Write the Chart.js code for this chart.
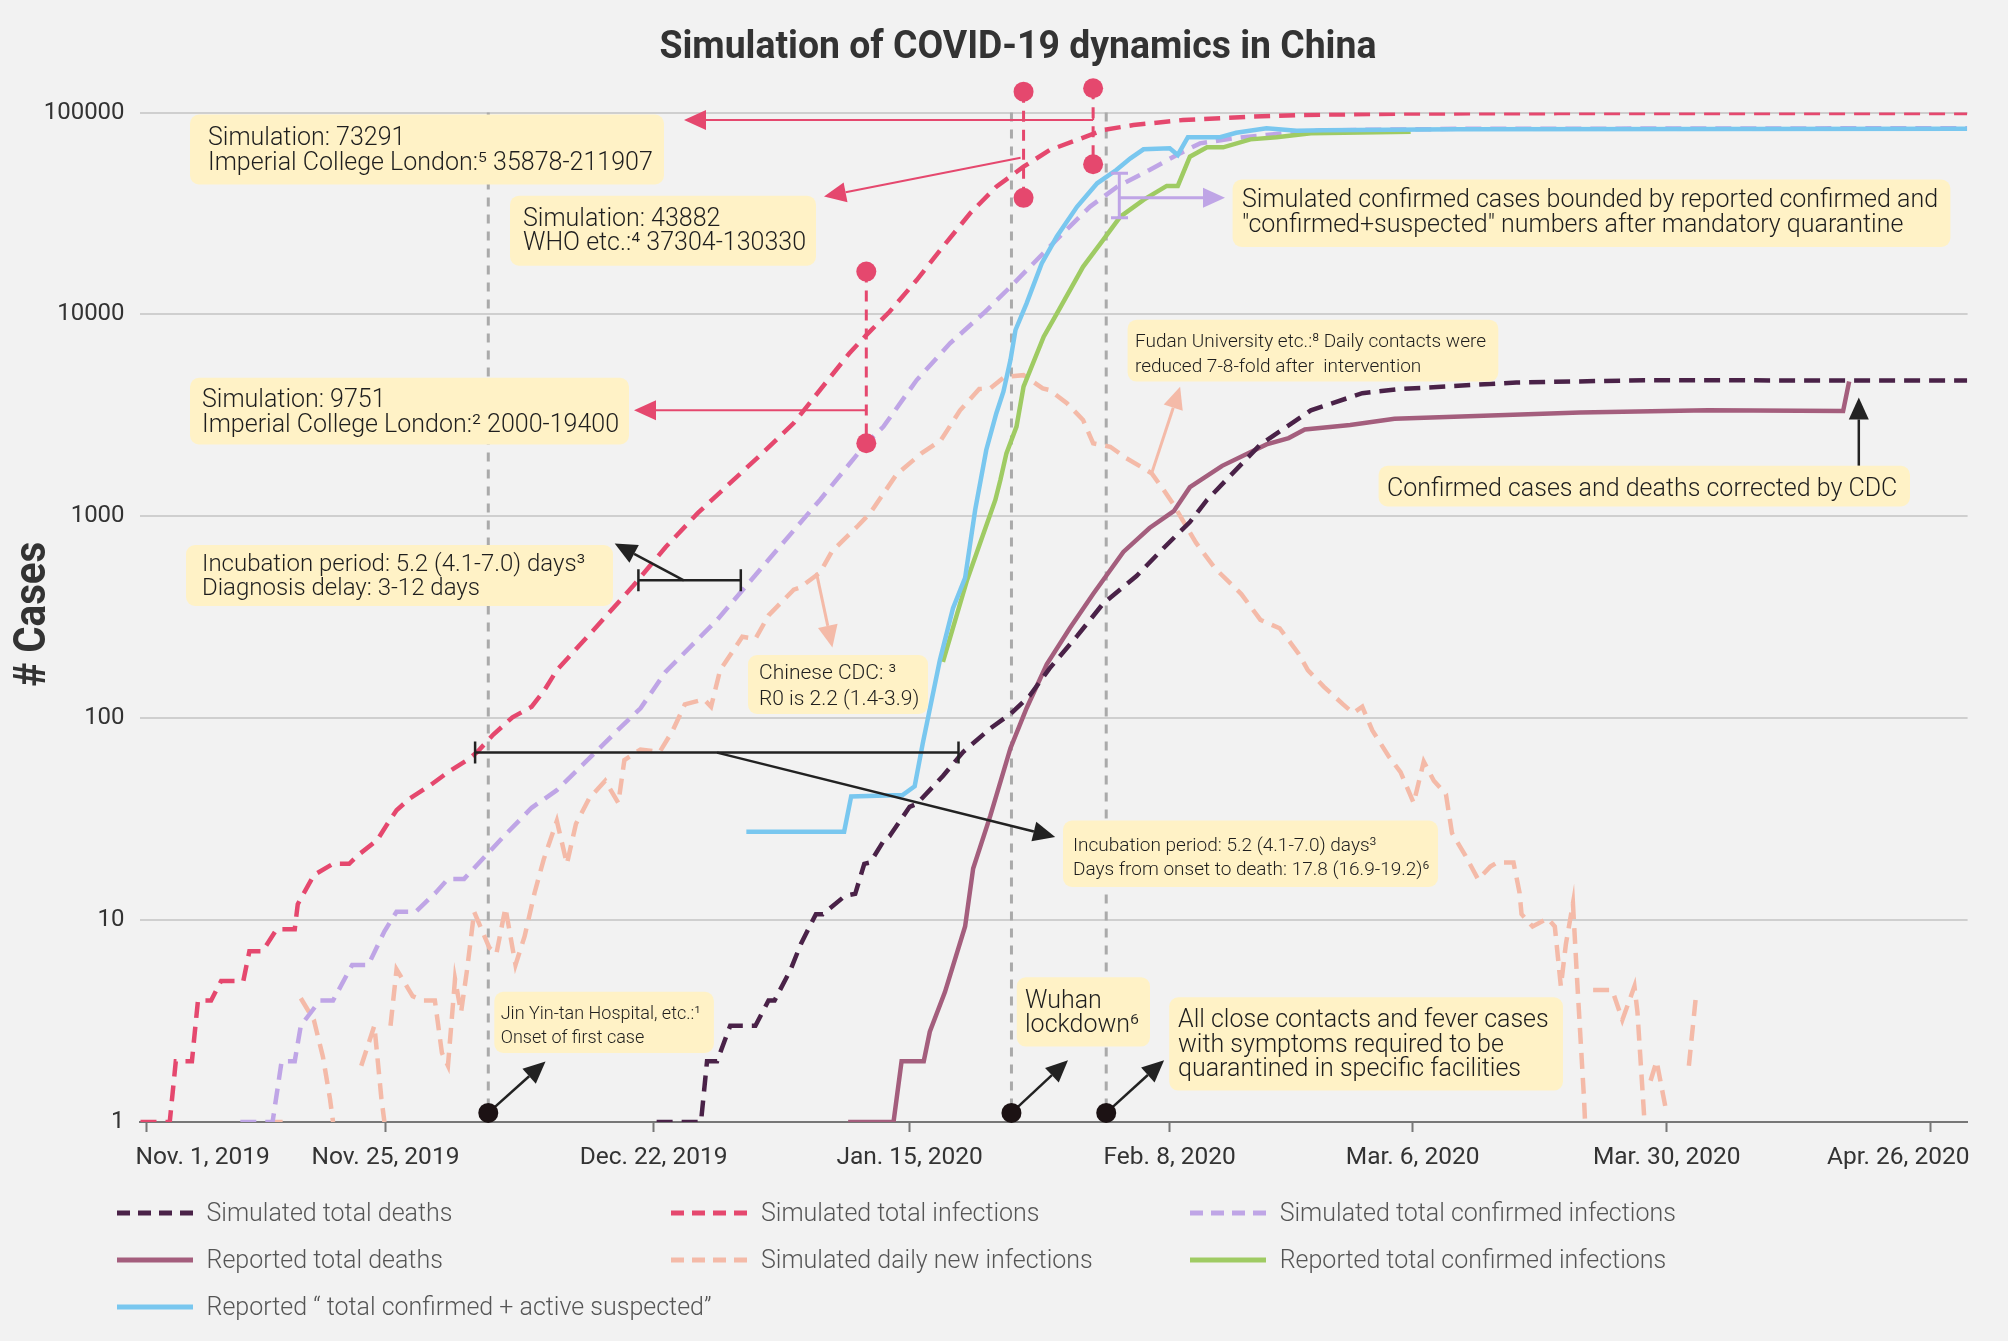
<!DOCTYPE html>
<html lang="en">
<head>
<meta charset="UTF-8">
<title>Simulation of COVID-19 dynamics in China</title>
<script src="https://cdn.jsdelivr.net/npm/chart.js"></script>
<style>
  html, body { margin: 0; padding: 0; background: #f2f2f2; }
  #wrap { position: relative; width: 2008px; height: 1341px; overflow: hidden; }
  #chart { position: absolute; left: 0; top: 0; }
  .item { position: absolute; display: flex; align-items: center; white-space: nowrap;
          font-family: Roboto, sans-serif; font-weight: 300; font-size: 25px; color: #555; height: 30px; }
  .item svg { margin-right: 14px; }
</style>
</head>
<body>
<div id="wrap">
  <canvas id="chart" width="2008" height="1341"></canvas>
  <div id="legend"></div>
</div>
<script>
// x values are day numbers counted from the first tick (Nov. 1, 2019)
const tickLabels = ['Nov. 1, 2019', 'Nov. 25, 2019', 'Dec. 22, 2019', 'Jan. 15, 2020',
                    'Feb. 8, 2020', 'Mar. 6, 2020', 'Mar. 30, 2020', 'Apr. 26, 2020'];
const tickDays = [0, 23.7, 50.3, 75.7, 101.5, 125.6, 150.8, 177.0];
const yTicks = [1, 10, 100, 1000, 10000, 100000];

// [day, cases]
const simDeaths = [[50.6,1],[55.0,1],[55.6,2],[56.6,2],[57.9,3],[60.4,3],[61.7,4],[62.3,4],[63.9,5.7],
  [64.9,7.6],[66.4,10.7],[67.1,10.7],[69.3,13.2],[70.3,13.5],[71.2,19],[71.8,19.3],[73.1,24.6],[73.7,26],
  [75.7,36.4],[76.4,37.6],[79.0,51.7],[81.0,68],[83.7,89],[85.7,105],[87.6,129],[89.6,177],[92.3,255],
  [94.9,370],[98.2,506],[100.9,697],[103.5,937],[105.2,1205],[110.5,2270],[115.5,3350],[120.6,4070],
  [124.4,4270],[135.9,4600],[148.6,4720],[180.6,4700]];

const simInfections = [[-0.6,1],[2.3,1],[2.9,2],[4.5,2],[5.1,4],[6.4,4],[7.4,5],[9.6,5],[10.2,7],[11.5,7],
  [12.9,9],[14.7,9],[15.0,12],[16.6,16.7],[18.5,19],[20.1,19],[21.0,21],[22.9,25],[23.9,30],[24.8,35],
  [26.1,40],[28.0,46],[29.9,54],[31.8,62],[32.8,68],[34.4,83],[36.3,101],[38.2,114],[39.4,136],[40.7,173],
  [44.5,279],[48.3,454],[51.5,704],[54.7,1040],[57.9,1463],[61.1,2056],[64.2,2896],[67.4,4600],
  [69.7,6400],[71.4,7900],[73.7,10300],[76.4,14800],[79.0,21640],[81.7,31680],[84.3,42900],[87.0,53900],
  [89.6,65200],[92.3,73100],[94.9,81900],[97.9,86700],[102.8,91800],[109.5,95300],[114.4,97200],
  [125.0,98800],[140.0,99300],[180.6,99300]];

const simConfirmed = [[9.3,1],[12.5,1],[13.4,2],[14.7,2],[15.3,3],[17.2,4],[18.5,4],[20.4,6],[22.0,6],
  [23.6,8.8],[24.8,11],[26.7,11],[28.7,13.7],[29.9,16],[31.5,16],[33.7,21],[35.6,26.5],[38.2,36],
  [40.7,44],[43.3,59],[46.4,84],[49.0,112],[51.5,170],[56.6,307],[61.7,609],[66.8,1205],[69.7,1810],
  [71.4,2300],[73.1,2780],[76.4,4730],[79.7,7190],[83.0,10100],[85.7,13700],[88.3,18600],[90.9,25200],
  [93.6,34200],[96.3,42900],[99.5,51900],[102.2,61600],[104.5,70300],[107.8,74500],[111.1,77400],
  [114.4,80400],[116.8,81600],[130.0,83000],[180.6,83600]];

const repDeaths = [[69.6,1],[74.1,1],[74.9,2],[77.1,2],[77.7,2.8],[79.2,4.4],[81.2,9.3],[82.0,18],
  [83.7,32.8],[85.7,71],[87.3,112],[89.3,185],[91.6,280],[93.9,412],[96.9,666],[99.5,875],[101.9,1060],
  [103.5,1393],[106.7,1778],[111.1,2270],[113.3,2440],[114.9,2690],[119.4,2830],[123.8,3040],
  [142.2,3270],[154.9,3350],[168.3,3320],[168.9,4650]];

const simDaily = [[12.5,1],[13.5,1],[14.4,null],[15.3,4.1],[16.6,3.2],[17.5,2.1],[18.2,1.3],[18.5,1],
  [19.9,null],[21.3,1.9],[22.6,3],[23.3,1.3],[23.6,1],[23.9,null],[24.2,3],[24.8,5.7],[26.4,4.2],
  [27.4,4],[28.6,4],[29.3,2.2],[29.9,1.9],[30.6,5.1],[31.2,3.5],[31.8,5.7],[32.5,11],[34.0,7.3],
  [34.7,6.8],[35.6,11.5],[36.6,6],[37.5,8.3],[38.5,13.7],[39.4,20],[40.7,31],[41.7,19],[42.6,30],
  [43.9,40],[45.5,49],[46.8,38],[47.4,62],[49.0,70],[50.9,68],[52.2,87],[53.4,117],[55.3,124],
  [56.0,114],[56.9,173],[59.1,253],[60.4,247],[61.7,323],[64.2,433],[64.8,443],[66.8,526],[68.0,671],
  [70.6,900],[71.8,1040],[74.4,1614],[76.9,2056],[78.8,2380],[80.7,3350],[82.6,4270],[83.7,4300],
  [85.1,4900],[87.0,5000],[88.9,4300],[89.6,4220],[91.3,3630],[92.9,3000],[93.9,2300],[95.6,2210],
  [97.2,1940],[98.9,1730],[99.7,1633],[100.9,1350],[101.9,1138],[104.1,740],[106.0,552],[108.6,412],
  [110.5,307],[112.4,279],[114.3,208],[115.2,173],[116.8,143],[118.7,117],[119.7,106],[120.6,114],
  [121.6,87],[123.2,65],[124.4,54],[125.7,38],[126.7,61],[127.7,49],[128.9,42],[129.5,27],[130.8,21],
  [132.1,15.9],[133.3,18.4],[134.0,19.3],[135.6,19.3],[136.2,13.7],[136.4,10.7],[137.5,9.3],[139.0,10.2],
  [139.7,9.3],[140.3,4.7],[140.8,7.6],[141.5,12.1],[141.9,5.2],[142.6,1.3],[142.7,1],[143.1,null],
  [143.5,4.5],[145.4,4.5],[146.4,3.2],[147.6,4.7],[147.9,3.5],[148.6,1],[148.9,null],[149.2,1.6],
  [149.8,2],[150.8,1.1],[151.9,null],[153.0,1.9],[153.7,4.2]];

const repConfirmed = [[79.0,190],[81.4,484],[84.2,1205],[84.7,1512],[85.3,2050],[86.3,2780],[87.0,4390],
  [89.0,7760],[90.3,10100],[92.9,17200],[94.9,23400],[96.6,30500],[98.9,36900],[101.2,43300],
  [102.3,43300],[103.5,60400],[105.2,67200],[106.8,67200],[109.5,73600],[112.1,75400],[115.5,78900],
  [125.4,80400]];

const repSuspected = [[59.5,27.4],[69.2,27.4],[69.9,41],[75.0,41.6],[76.2,46],[77.0,75],[78.7,194],
  [80.0,351],[81.2,495],[82.2,1075],[83.3,2130],[84.3,3240],[85.0,4140],[85.7,5940],[86.2,8370],
  [87.3,11350],[88.8,17900],[90.3,24300],[92.3,34100],[94.3,44600],[96.2,51900],[97.6,59300],
  [98.9,65700],[101.5,66500],[102.3,61600],[103.3,75400],[106.5,75400],[108.1,79400],[111.1,83500],
  [114.1,81300],[116.8,81600],[130.0,82500],[180.6,83000]];

// event dates (vertical dashed lines) and the estimate ranges marked with red pins
const eventDays = [33.9, 85.8, 95.2];
const pinDays = [71.4, 87.0, 93.9];
const pinLow = [2300, 37800, 55400];
const pinHigh = [16300, 126800, 131800];

const DASH = [16, 9];
function series(label, pts, color, dash, order) {
  return {
    label: label,
    data: pts.map(p => ({ x: p[0], y: p[1] })),
    borderColor: color,
    borderWidth: 4.5,
    borderDash: dash,
    pointRadius: 0,
    tension: 0,
    spanGaps: false,
    order: order
  };
}

const datasets = [
  series('Simulated total deaths', simDeaths, '#4a2248', DASH, 0),
  series('Simulated total infections', simInfections, '#e5486e', DASH, 2),
  series('Simulated total confirmed infections', simConfirmed, '#bfa5e6', DASH, 5),
  series('Reported total deaths', repDeaths, '#a45e7d', [], 1),
  series('Simulated daily new infections', simDaily, '#f4baa8', DASH, 6),
  series('Reported total confirmed infections', repConfirmed, '#9fcb63', [], 4),
  series('Reported \u201c total confirmed + active suspected\u201d', repSuspected, '#79c7ef', [], 3)
];

// callout boxes (pixel layout)
const boxes = [
  { x: 190, y: 114.5, w: 474, h: 70, tx: 208, ty: 145, lh: 24.7, size: 25,
    lines: ['Simulation: 73291', 'Imperial College London:\u2075 35878-211907'] },
  { x: 510, y: 195.7, w: 306, h: 70, tx: 523, ty: 225.6, lh: 24.4, size: 25,
    lines: ['Simulation: 43882', 'WHO etc.:\u2074 37304-130330'] },
  { x: 190, y: 377.8, w: 439, h: 66.6, tx: 202, ty: 406.8, lh: 24.8, size: 25,
    lines: ['Simulation: 9751', 'Imperial College London:\u00b2 2000-19400'] },
  { x: 186, y: 545, w: 427, h: 61, tx: 202, ty: 570.5, lh: 24.8, size: 24,
    lines: ['Incubation period: 5.2 (4.1-7.0) days\u00b3', 'Diagnosis delay: 3-12 days'] },
  { x: 748, y: 655, w: 180, h: 59, tx: 759, ty: 679, lh: 25.5, size: 21,
    lines: ['Chinese CDC: \u00b3', 'R0 is 2.2 (1.4-3.9)'] },
  { x: 1063, y: 820.6, w: 375, h: 66.3, tx: 1073, ty: 850.6, lh: 24.8, size: 19,
    lines: ['Incubation period: 5.2 (4.1-7.0) days\u00b3', 'Days from onset to death: 17.8 (16.9-19.2)\u2076'] },
  { x: 1232.6, y: 179.5, w: 717.8, h: 67.5, tx: 1242, ty: 207.3, lh: 24.3, size: 25,
    lines: ['Simulated confirmed cases bounded by reported confirmed and',
            '"confirmed+suspected" numbers after mandatory quarantine'] },
  { x: 1127.6, y: 319.7, w: 370.7, h: 61.9, tx: 1135, ty: 347, lh: 24.8, size: 19,
    lines: ['Fudan University etc.:\u2078 Daily contacts were', 'reduced 7-8-fold after  intervention'] },
  { x: 1378.6, y: 465.8, w: 531.4, h: 40.6, tx: 1387, ty: 495.7, lh: 24, size: 25,
    lines: ['Confirmed cases and deaths corrected by CDC'] },
  { x: 494.3, y: 991.8, w: 219.6, h: 61.2, tx: 500.7, ty: 1018.7, lh: 24.3, size: 18,
    lines: ['Jin Yin-tan Hospital, etc.:\u00b9', 'Onset of first case'] },
  { x: 1016.8, y: 977.2, w: 133.2, h: 69.4, tx: 1025, ty: 1008, lh: 23.6, size: 25,
    lines: ['Wuhan', 'lockdown\u2076'] },
  { x: 1169.2, y: 997.3, w: 393.8, h: 93.3, tx: 1178, ty: 1027.3, lh: 24.2, size: 25,
    lines: ['All close contacts and fever cases', 'with symptoms required to be',
            'quarantined in specific facilities'] }
];

function arrow(ctx, x1, y1, x2, y2, color, lw) {
  const L = 22, W = 10;
  const a = Math.atan2(y2 - y1, x2 - x1);
  const bx = x2 - L * Math.cos(a), by = y2 - L * Math.sin(a);
  ctx.save();
  ctx.setLineDash([]);
  ctx.strokeStyle = color; ctx.fillStyle = color; ctx.lineWidth = lw;
  ctx.beginPath(); ctx.moveTo(x1, y1); ctx.lineTo(bx, by); ctx.stroke();
  ctx.beginPath();
  ctx.moveTo(x2, y2);
  ctx.lineTo(bx + W * Math.sin(a), by - W * Math.cos(a));
  ctx.lineTo(bx - W * Math.sin(a), by + W * Math.cos(a));
  ctx.closePath(); ctx.fill();
  ctx.restore();
}

function hbar(ctx, x1, x2, y, color) {
  ctx.save();
  ctx.setLineDash([]);
  ctx.strokeStyle = color; ctx.lineWidth = 2.5;
  ctx.beginPath();
  ctx.moveTo(x1, y); ctx.lineTo(x2, y);
  ctx.moveTo(x1, y - 11); ctx.lineTo(x1, y + 11);
  ctx.moveTo(x2, y - 11); ctx.lineTo(x2, y + 11);
  ctx.stroke();
  ctx.restore();
}

// text squeezed horizontally to a given width
function fitText(ctx, text, x, y, width) {
  const w = ctx.measureText(text).width;
  ctx.save();
  ctx.translate(x, y);
  ctx.scale(width / w, 1);
  ctx.fillText(text, 0, 0);
  ctx.restore();
}

const annotations = {
  id: 'annotations',
  beforeDatasetsDraw(chart) {
    const ctx = chart.ctx, xs = chart.scales.x, area = chart.chartArea;
    ctx.save();
    ctx.strokeStyle = '#aaaaaa'; ctx.lineWidth = 3; ctx.setLineDash([9, 8]);
    eventDays.forEach(d => {
      const x = xs.getPixelForValue(d);
      ctx.beginPath(); ctx.moveTo(x, area.top); ctx.lineTo(x, area.bottom); ctx.stroke();
    });
    ctx.restore();
  },
  afterDatasetsDraw(chart) {
    const ctx = chart.ctx, xs = chart.scales.x, ys = chart.scales.y;
    const red = '#e5486e', black = '#222222', peach = '#f4baa8', lav = '#bfa5e6';

    // red pins: estimate ranges
    const pinX = pinDays.map(d => xs.getPixelForValue(d));
    ctx.save();
    pinDays.forEach((d, i) => {
      const x = pinX[i], y1 = ys.getPixelForValue(pinHigh[i]), y2 = ys.getPixelForValue(pinLow[i]);
      ctx.strokeStyle = red; ctx.lineWidth = 3; ctx.setLineDash([11, 8]);
      ctx.beginPath(); ctx.moveTo(x, y1); ctx.lineTo(x, y2); ctx.stroke();
      ctx.setLineDash([]); ctx.fillStyle = red;
      [y1, y2].forEach(y => { ctx.beginPath(); ctx.arc(x, y, 10, 0, Math.PI * 2); ctx.fill(); });
    });
    ctx.restore();

    // connectors from pins to their boxes
    ctx.save();
    ctx.strokeStyle = red; ctx.lineWidth = 2;
    ctx.beginPath(); ctx.moveTo(pinX[2], 110); ctx.lineTo(pinX[2], 120); ctx.stroke();
    ctx.restore();
    arrow(ctx, pinX[2], 120, 684, 120, red, 2);
    arrow(ctx, pinX[1] - 3, 157.7, 824, 196.6, red, 2);
    arrow(ctx, pinX[0], 410.3, 634, 410.3, red, 2);

    // interval bars and black arrows
    hbar(ctx, 638.4, 740.8, 580.3, black);
    arrow(ctx, 683.8, 580.3, 614.7, 543.6, black, 2.5);
    hbar(ctx, 475.1, 958.5, 752.6, black);
    arrow(ctx, 717.1, 752.6, 1055.2, 836.9, black, 2.5);
    arrow(ctx, 1858.8, 465.8, 1858.8, 397.4, black, 2.5);

    // peach arrows
    arrow(ctx, 816.4, 572.6, 832.4, 647.4, peach, 3);
    arrow(ctx, 1151.3, 474.4, 1180.1, 386.8, peach, 3);

    // lavender bracket
    ctx.save();
    ctx.strokeStyle = lav; ctx.lineWidth = 3;
    ctx.beginPath();
    ctx.moveTo(1119.3, 173.3); ctx.lineTo(1119.3, 217.7);
    ctx.moveTo(1111, 173.3); ctx.lineTo(1128, 173.3);
    ctx.moveTo(1111, 217.7); ctx.lineTo(1128, 217.7);
    ctx.stroke();
    ctx.restore();
    arrow(ctx, 1119.3, 197.7, 1225, 197.7, lav, 3);

    // event dots on the axis
    const dotTips = [[545.5, 1061.5], [1068, 1060.2], [1164.1, 1060.2]];
    eventDays.forEach((d, i) => {
      const x = xs.getPixelForValue(d), y = 1112.9;
      arrow(ctx, x, y, dotTips[i][0], dotTips[i][1], black, 2.5);
      ctx.save();
      ctx.fillStyle = '#1c1214';
      ctx.beginPath(); ctx.arc(x, y, 10, 0, Math.PI * 2); ctx.fill();
      ctx.restore();
    });

    // callout boxes
    boxes.forEach(b => {
      ctx.save();
      ctx.fillStyle = '#fff2c6';
      ctx.beginPath(); ctx.roundRect(b.x, b.y, b.w, b.h, 9); ctx.fill();
      ctx.fillStyle = '#1e1e1e';
      ctx.font = '300 ' + b.size + 'px Roboto';
      ctx.textAlign = 'left'; ctx.textBaseline = 'alphabetic';
      b.lines.forEach((t, i) => ctx.fillText(t, b.tx, b.ty + i * b.lh));
      ctx.restore();
    });
  },
  afterDraw(chart) {
    const ctx = chart.ctx, xs = chart.scales.x, area = chart.chartArea;

    // x tick labels, kept inside the plot width at both ends
    ctx.save();
    ctx.fillStyle = '#333333';
    ctx.font = '400 24.5px Roboto';
    ctx.textAlign = 'left'; ctx.textBaseline = 'alphabetic';
    tickDays.forEach((d, i) => {
      const w = ctx.measureText(tickLabels[i]).width;
      let left = xs.getPixelForValue(d) - w / 2;
      left = Math.max(left, area.left - 4);
      left = Math.min(left, area.right + 2 - w);
      ctx.fillText(tickLabels[i], left, 1164);
    });
    ctx.restore();

    ctx.save();
    ctx.fillStyle = '#333333';
    ctx.font = 'bold 39px Roboto';
    ctx.textAlign = 'left'; ctx.textBaseline = 'alphabetic';
    fitText(ctx, 'Simulation of COVID-19 dynamics in China', 659.4, 57.7, 717);
    ctx.translate(34, 686.7);
    ctx.rotate(-Math.PI / 2);
    ctx.font = 'bold 44px Roboto';
    ctx.textBaseline = 'middle';
    fitText(ctx, '# Cases', 0, 0, 145);
    ctx.restore();
  }
};

function buildLegend() {
  const cols = [116.5, 671, 1189.7];
  const rows = [1212.6, 1259.6, 1306.7];
  const box = document.getElementById('legend');
  datasets.forEach((ds, i) => {
    const el = document.createElement('div');
    el.className = 'item';
    el.style.left = cols[i % 3] + 'px';
    el.style.top = (rows[Math.floor(i / 3)] - 15) + 'px';
    const dash = ds.borderDash.length ? 'stroke-dasharray="13 8"' : '';
    el.innerHTML = '<svg width="76" height="10"><line x1="0" y1="5" x2="76" y2="5" stroke="' +
      ds.borderColor + '" stroke-width="5" ' + dash + '/></svg>';
    const span = document.createElement('span');
    span.textContent = ds.label;
    el.appendChild(span);
    box.appendChild(el);
  });
}

function draw() {
  new Chart(document.getElementById('chart'), {
    type: 'line',
    data: { datasets: datasets },
    plugins: [annotations],
    options: {
      responsive: false,
      animation: false,
      layout: { padding: { left: 0, top: 112.5, right: 40.4, bottom: 159 } },
      plugins: { legend: { display: false }, tooltip: { enabled: false }, title: { display: false } },
      scales: {
        x: {
          type: 'linear', min: -0.69, max: 180.65,
          afterBuildTicks: s => { s.ticks = tickDays.map(v => ({ value: v })); },
          afterFit: s => { s.height = 60; s.paddingLeft = 0; s.paddingRight = 0; },
          ticks: { display: false, autoSkip: false, maxRotation: 0 },
          grid: { drawOnChartArea: false, drawTicks: true, tickLength: 10, tickColor: '#777', tickWidth: 2 },
          border: { color: '#777', width: 2 }
        },
        y: {
          type: 'logarithmic', min: 1, max: 100000,
          afterBuildTicks: s => { s.ticks = yTicks.map(v => ({ value: v })); },
          afterFit: s => { s.width = 139.6; s.paddingTop = 0; s.paddingBottom = 0; },
          ticks: { callback: v => String(v), font: { family: 'Roboto', size: 24 }, color: '#333', padding: 15 },
          grid: { color: c => (c.tick && c.tick.value === 1) ? 'rgba(0,0,0,0)' : '#cfcfcf',
                  lineWidth: 2, drawTicks: false },
          border: { display: false }
        }
      }
    }
  });
  buildLegend();
}

Promise.all([
  document.fonts.load('300 24px Roboto'),
  document.fonts.load('400 24px Roboto'),
  document.fonts.load('bold 34px Roboto')
]).then(draw, draw);
</script>
</body>
</html>
